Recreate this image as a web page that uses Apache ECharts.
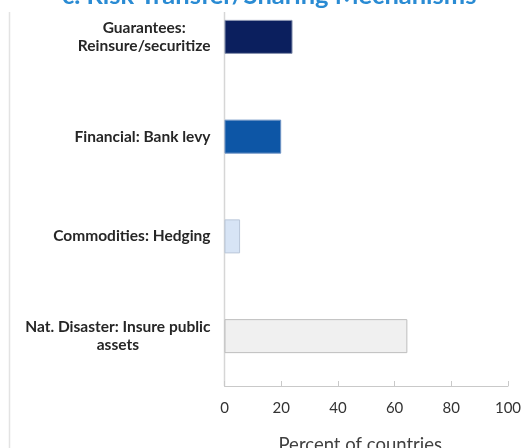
<!DOCTYPE html>
<html>
<head>
<meta charset="utf-8">
<script src="https://cdn.jsdelivr.net/npm/echarts@6/dist/echarts.min.js"></script>
<style>
  html, body { margin: 0; padding: 0; background: #ffffff; }
  #chart { width: 523px; height: 448px; }
</style>
</head>
<body>
<div id="chart"></div>
<script>
// Categories listed top to bottom
const categories = [
  'Guarantees:\nReinsure/securitize',
  'Financial: Bank levy',
  'Commodities: Hedging',
  'Nat. Disaster: Insure public\nassets'
];
// Percent of countries using each mechanism
const shares = [24, 20, 5.5, 64.5];
// Value-axis ticks
const xTicks = [0, 20, 40, 60, 80, 100];

const barFill = ['#0b1f5e', '#0d56a6', '#d7e4f5', '#f0f0f0'];
const barEdge = ['#8a95b0', '#6f93c4', '#b9c6d8', '#bdbdbd'];

// Multi-line category labels: lines centred within their block
function catLabel(value) {
  return value.split('\n').map(function (line) { return '{c|' + line + '}'; }).join('\n');
}

const chart = echarts.init(document.getElementById('chart'), null, { renderer: 'canvas' });

const gridLeft = 224.5, gridRight = 15, gridTop = -13, gridBottom = 62;

chart.setOption({
  animation: false,
  backgroundColor: '#ffffff',
  title: {
    text: 'c. Risk Transfer/Sharing Mechanisms',
    left: 57,
    top: -22,
    textStyle: { fontFamily: 'Lato', fontWeight: 'bold', fontSize: 25.5, color: '#2a8bd3' }
  },
  grid: {
    left: gridLeft, right: gridRight, top: gridTop, bottom: gridBottom,
    containLabel: false,
    outerBoundsMode: 'none'
  },
  xAxis: {
    type: 'value',
    min: xTicks[0],
    max: xTicks[xTicks.length - 1],
    interval: xTicks[1] - xTicks[0],
    name: 'Percent of countries',
    nameLocation: 'middle',
    nameGap: 50,
    nameTextStyle: { fontFamily: 'Lato', fontSize: 18.5, color: '#404040', padding: [0, 12, 0, 0] },
    axisLine: { show: true, lineStyle: { color: '#c9c9c9', width: 1 } },
    axisTick: { show: true, inside: true, length: 5, lineStyle: { color: '#c9c9c9' } },
    splitLine: { show: false },
    axisLabel: { margin: 15, fontFamily: 'Lato', fontSize: 15, color: '#333333' }
  },
  yAxis: {
    type: 'category',
    inverse: true,
    data: categories,
    axisLine: { show: false },
    axisTick: { show: false },
    axisLabel: {
      margin: 14,
      formatter: catLabel,
      rich: { c: { align: 'center', fontFamily: 'Lato', fontWeight: 'bold', fontSize: 15.5, color: '#262626', lineHeight: 18.5 } }
    }
  },
  series: [{
    type: 'bar',
    barWidth: 34,
    data: shares.map(function (v, i) {
      return { value: v, itemStyle: { color: barFill[i], borderColor: barEdge[i], borderWidth: 1 } };
    })
  }],
  graphic: [
    // frame edge on the left
    { type: 'line', shape: { x1: 9.5, y1: 12, x2: 9.5, y2: 448 }, style: { stroke: '#e3e3e3', lineWidth: 1.5 }, silent: true },
    // category axis line
    { type: 'line', shape: { x1: gridLeft, y1: 12, x2: gridLeft, y2: 448 - gridBottom }, style: { stroke: '#d6d6d6', lineWidth: 1.5 }, silent: true }
  ]
});
</script>
</body>
</html>
